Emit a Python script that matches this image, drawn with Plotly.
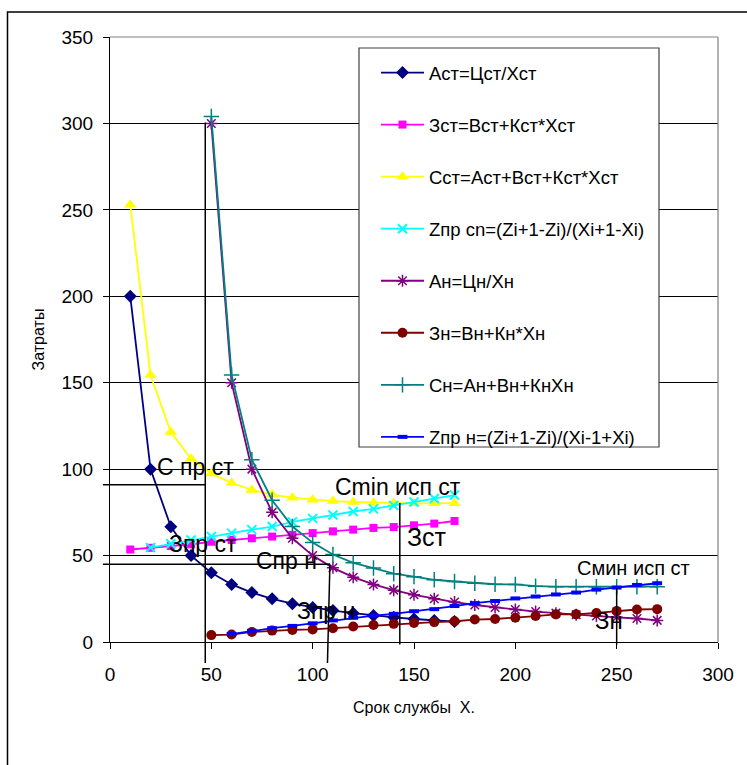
import plotly.graph_objects as go

# ---------------- data ----------------
x_st = [10, 20, 30, 40, 50, 60, 70, 80, 90, 100, 110, 120, 130, 140, 150, 160, 170]
A_st = [200, 100, 66.7, 50, 40, 33.3, 28.6, 25, 22.2, 20, 18.2, 16.7, 15.4, 14.3, 13.3, 12.5, 11.8]
Z_st = [53.5, 54.5, 55.5, 56.5, 58, 59, 60, 61, 62, 63, 64, 65, 66, 66.5, 67.5, 68.5, 70]
S_st = [253, 154.5, 121.5, 106, 97.5, 92, 88, 85.3, 83.5, 82.3, 81.5, 81, 80.6, 80.3, 80.2, 80.2, 80.3]
x_zpr_st = [20, 30, 40, 50, 60, 70, 80, 90, 100, 110, 120, 130, 140, 150, 160, 170]
Zpr_st = [54.6, 56.8, 59, 61, 63, 65, 66.8, 69.5, 71.5, 73.5, 75.5, 77, 79, 81, 83, 85]

x_n = [50, 60, 70, 80, 90, 100, 110, 120, 130, 140, 150, 160, 170, 180, 190, 200,
       210, 220, 230, 240, 250, 260, 270]
A_n = [300, 150, 100, 75, 60, 50, 42.9, 37.5, 33.3, 30, 27.3, 25, 23.1, 21.4, 20, 18.8,
       17.6, 16.7, 15.8, 15, 14.3, 13.6, 12.5]
Z_n = [4, 4.3, 5.8, 6.6, 7, 7.3, 8, 9, 9.8, 10.5, 11, 11.5, 12, 13, 13.3, 14,
       15, 16, 16, 16.8, 18, 18.8, 19]
S_n = [304, 154.5, 105.5, 82, 66.8, 57.5, 50.6, 45.8, 42.8, 39.5, 37.8, 36, 35, 34, 33.4, 33.3,
       32.3, 32, 32, 32, 32, 32, 32]
x_zpr_n = [60, 70, 80, 90, 100, 110, 120, 130, 140, 150, 160, 170, 180, 190, 200,
           210, 220, 230, 240, 250, 260, 270]
Zpr_n = [4.6, 6.5, 8, 9.3, 10.8, 12.5, 14, 15.3, 16.3, 17.8, 19, 20.8, 22.5, 23.7, 25.2,
         26.3, 27.5, 28.6, 30.3, 31.5, 33, 34]

names = ["Аст=Цст/Хст", "Зст=Вст+Кст*Хст", "Сст=Аст+Вст+Кст*Хст",
         "Zпр сn=(Zi+1-Zi)/(Xi+1-Xi)", "Ан=Цн/Хн", "Зн=Вн+Кн*Хн",
         "Сн=Ан+Вн+КнХн", "Zпр н=(Zi+1-Zi)/(Xi-1+Xi)"]

x_ticks = [0, 50, 100, 150, 200, 250, 300]
y_ticks = [0, 50, 100, 150, 200, 250, 300, 350]

# reference (construction) lines, data coords: (x0, y0, x1, y1)
ref_lines = [
    (47, -12.2, 47, 300.6),
    (-3.5, 91, 47, 91),
    (-3.5, 45, 108.5, 45),
    (108.5, 44.6, 107.3, -12.2),
    (143, 80.4, 143, -1.5),
    (250, 31.3, 250, -1.5),
]
# labels: (text, x, y, size)
labels = [
    ("С пр ст", 42.4, 101.4, 23),
    ("Зпр ст", 45.9, 56.8, 23),
    ("Спр н", 87.3, 46.9, 23),
    ("Зпр н", 106.6, 18.0, 23),
    ("Хпр ст", 56.7, -2.9, 23),
    ("Хпр н", 106.1, -5.2, 23),
    ("Cmin исп ст", 142.3, 89.8, 23),
    ("Зст", 156.6, 60.8, 25),
    ("Смин исп ст", 258.5, 42.9, 20),
    ("Зн", 246.2, 12.2, 24),
]

XMAX, YMAX = 300, 350
FONT = "Liberation Sans, Arial, sans-serif"

fig = go.Figure()

styles = [
    dict(color="#000080", symbol="diamond", size=10),
    dict(color="#FF00FF", symbol="square", size=8),
    dict(color="#FFFF00", symbol="triangle-up", size=11),
    dict(color="#00FFFF", symbol="x-thin", size=9, lw=2),
    dict(color="#800080", symbol="asterisk", size=10, lw=1.5),
    dict(color="#800000", symbol="circle", size=10),
    dict(color="#008080", symbol="cross-thin", size=11, lw=1.5),
    dict(color="#0000FF", symbol="line-ew", size=7, lw=4),
]
series = [(x_st, A_st), (x_st, Z_st), (x_st, S_st), (x_zpr_st, Zpr_st),
          (x_n, A_n), (x_n, Z_n), (x_n, S_n), (x_zpr_n, Zpr_n)]

for i, ((xs, ys), st, nm) in enumerate(zip(series, styles, names)):
    mk = dict(symbol=st["symbol"], size=st["size"], color=st["color"])
    if "lw" in st:
        mk["line"] = dict(color=st["color"], width=st["lw"])
    fig.add_trace(go.Scatter(
        x=xs, y=ys, name=nm, mode="lines+markers",
        line=dict(color=st["color"], width=1.8),
        marker=mk, legendgroup=f"g{i}", cliponaxis=False,
    ))

def px2paper_x(px):
    return (px - 110) / 608.0

def px2paper_y(py):
    return (642 - py) / 605.0

shapes = []
# legend frame (opaque, hides gridlines)
shapes.append(dict(type="rect", xref="paper", yref="paper",
                   x0=px2paper_x(359), x1=px2paper_x(659),
                   y0=px2paper_y(447), y1=px2paper_y(48),
                   line=dict(color="#404040", width=1.2), fillcolor="white", layer="above"))
for (x0, y0, x1, y1) in ref_lines:
    shapes.append(dict(type="line", xref="paper", yref="paper",
                       x0=x0 / XMAX, y0=y0 / YMAX, x1=x1 / XMAX, y1=y1 / YMAX,
                       line=dict(color="black", width=1.5)))
# plot area border (top/right gray)
shapes.append(dict(type="line", xref="paper", yref="paper", x0=0, y0=1, x1=1, y1=1,
                   line=dict(color="#808080", width=1.2)))
shapes.append(dict(type="line", xref="paper", yref="paper", x0=1, y0=0, x1=1, y1=1,
                   line=dict(color="#808080", width=1.2)))
# outer chart frame
shapes.append(dict(type="rect", xref="paper", yref="paper",
                   x0=px2paper_x(7.5), x1=px2paper_x(760),
                   y0=px2paper_y(780), y1=px2paper_y(12),
                   line=dict(color="black", width=1.5)))

annotations = []
for (t, x, y, s) in labels:
    annotations.append(dict(text=t, x=x, y=y, xref="x", yref="y", showarrow=False,
                            font=dict(family=FONT, size=s, color="black"),
                            xanchor="center", yanchor="middle"))

fig.update_layout(
    width=747, height=765,
    margin=dict(l=110, r=29, t=37, b=123),
    paper_bgcolor="white", plot_bgcolor="white",
    font=dict(family=FONT, color="black"),
    shapes=shapes, annotations=annotations,
    showlegend=True,
    legend=dict(x=px2paper_x(376), y=px2paper_y(54), xanchor="left", yanchor="top",
                bgcolor="rgba(0,0,0,0)", borderwidth=0,
                font=dict(family=FONT, size=18.5, color="black"),
                tracegroupgap=25, itemwidth=43, itemclick=False),
    xaxis=dict(range=[0, XMAX], tickvals=x_ticks, showgrid=False, zeroline=False,
               showline=True, linecolor="black", linewidth=1.2,
               ticks="outside", ticklen=6, tickcolor="black", ticklabelstandoff=9,
               tickfont=dict(family=FONT, size=19, color="black"),
               title=dict(text="Срок службы  Х.", font=dict(family=FONT, size=16, color="black"),
                          standoff=17)),
    yaxis=dict(range=[0, YMAX], tickvals=y_ticks, showgrid=True, gridcolor="black", gridwidth=1,
               zeroline=False, showline=True, linecolor="black", linewidth=1.2,
               ticks="outside", ticklen=6, tickcolor="black", ticklabelstandoff=6,
               tickfont=dict(family=FONT, size=19, color="black"),
               title=dict(text="Затраты", font=dict(family=FONT, size=16, color="black"),
                          standoff=12)),
)

fig.write_html("out.html")
